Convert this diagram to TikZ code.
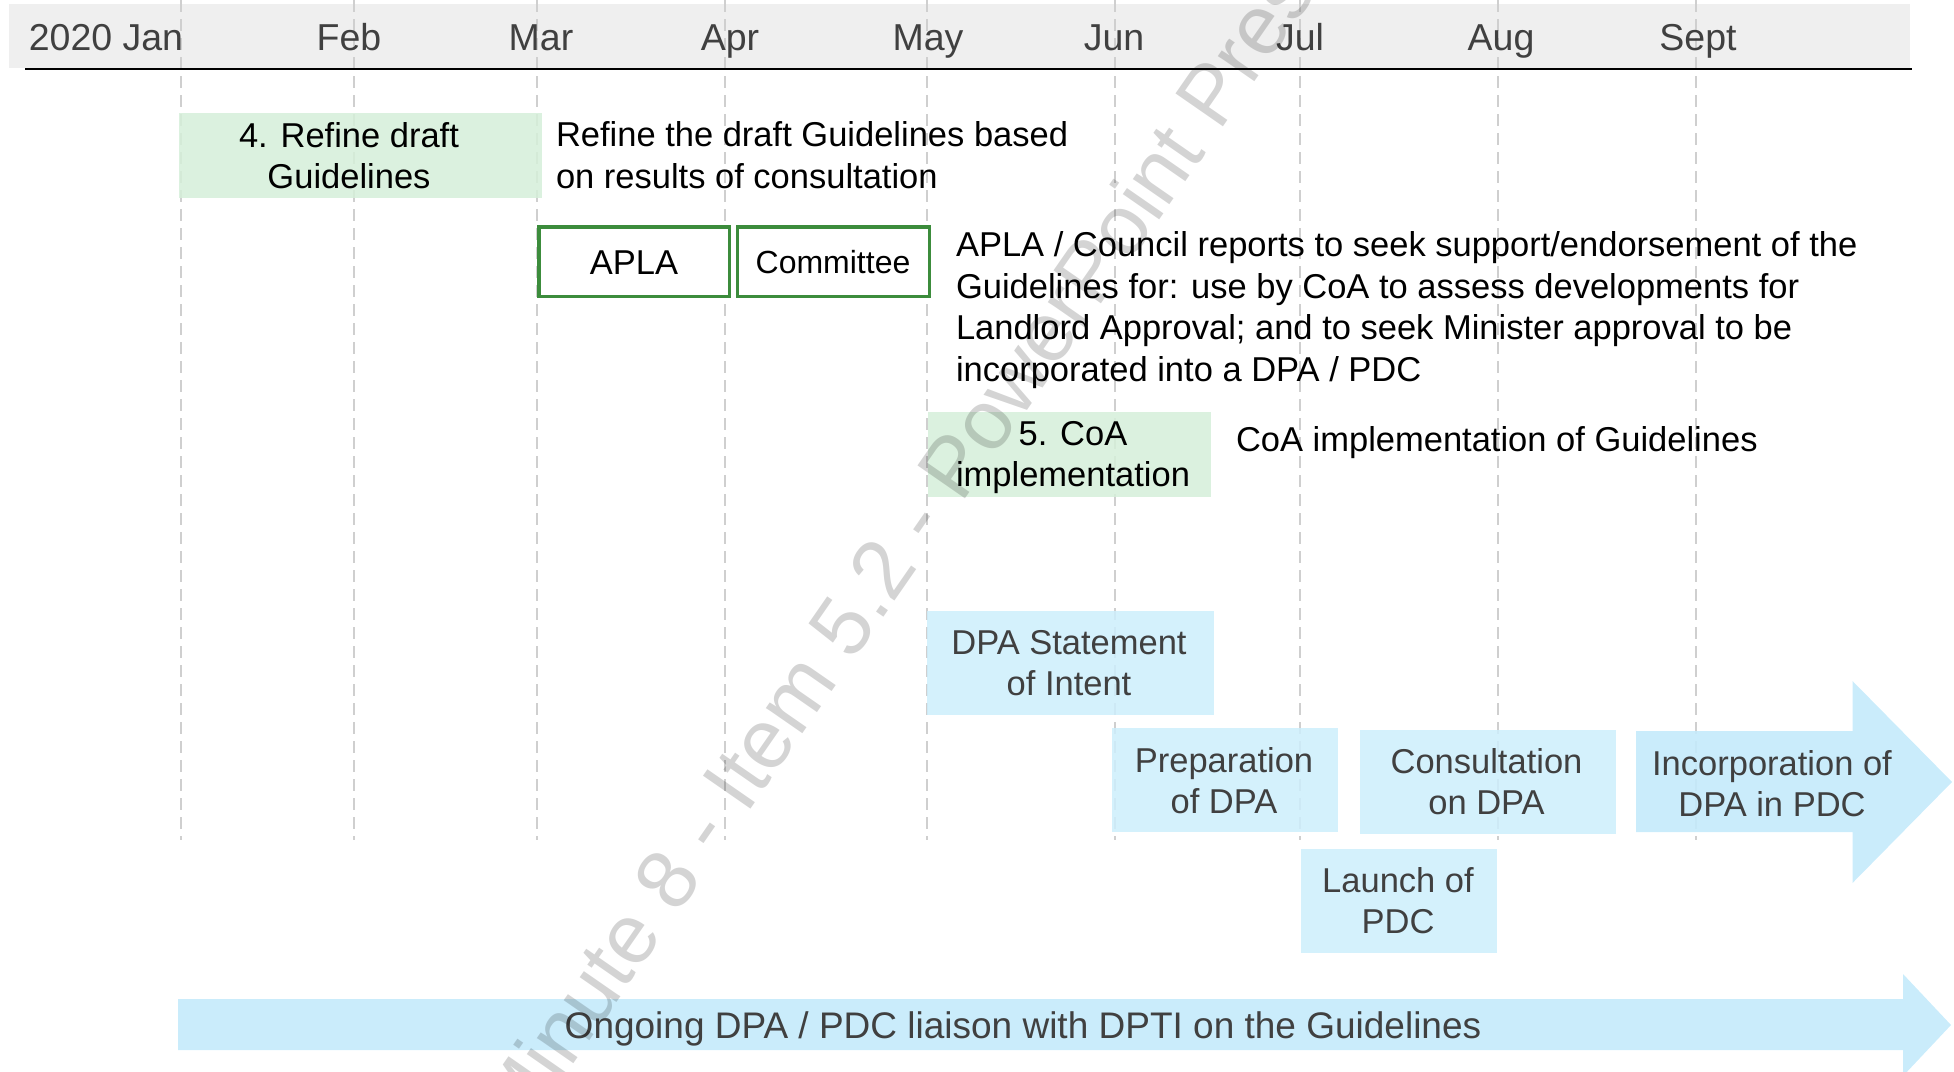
\documentclass[tikz,border=0pt]{standalone}
\usepackage{fontspec}
\setmainfont{Liberation Sans}
\definecolor{bandgrey}{HTML}{EFEFEF}
\definecolor{gridgrey}{HTML}{CFCFCF}
\definecolor{greenfill}{HTML}{D5EFD9}
\definecolor{greenline}{HTML}{3C8C3C}
\definecolor{bluefill}{HTML}{CDEEFC}
\definecolor{arrowblue}{HTML}{C4EAFB}
\definecolor{greytext}{HTML}{404040}
\begin{document}
\begin{tikzpicture}[x=1pt,y=-1pt,
  every node/.style={inner sep=0pt, outer sep=0pt},
  month/.style={anchor=base, text=greytext, font=\fontsize{37.5}{45}\selectfont},
  body/.style={anchor=base west, align=left, font=\fontsize{34.5}{41.5}\selectfont},
  boxlabel/.style={anchor=base, align=center, font=\fontsize{34.5}{41}\selectfont},
  bluelabel/.style={boxlabel, text=greytext},
  gridline/.style={draw=gridgrey, line width=1.6pt, dash pattern=on 12pt off 7pt},
  greenbox/.style={rectangle, fill=greenfill, fill opacity=0.85},
  bluebox/.style={rectangle, fill=bluefill, fill opacity=0.85},
  outlinebox/.style={rectangle, draw=greenline, line width=3.5pt, fill=white},
  arrowshape/.style={fill=arrowblue, fill opacity=0.9}
]
\useasboundingbox (0,0) rectangle (1954,1071);
\clip (0,0) rectangle (1954,1071);

% month header
\fill[bandgrey] (9,4) rectangle (1910,68);
\foreach \x in {181,354,537,725,927,1115,1300,1498,1696}
  \draw[gridline] (\x,0) -- (\x,840);
\draw[black, line width=2pt] (25,68.5) -- (1912,68.5);

\node[month] (jan)  at (106,50.5)  {2020 Jan};
\node[month] (feb)  at (349,50.5)  {Feb};
\node[month] (mar)  at (541,50.5)  {Mar};
\node[month] (apr)  at (730,50.5)  {Apr};
\node[month] (may)  at (928,50.5)  {May};
\node[month] (jun)  at (1114,50.5) {Jun};
\node[month] (jul)  at (1300,50.5) {Jul};
\node[month] (aug)  at (1501,50.5) {Aug};
\node[month] (sept) at (1698,50.5) {Sept};

% step 4
\node[greenbox, minimum width=363, minimum height=85] (refine) at (360.5,155.5) {};
\node[boxlabel] (refinetxt) at (349,188) {4. Refine draft\\Guidelines};
\node[body] (refinedesc) at (556,188) {Refine the draft Guidelines based\\on results of consultation};

% reports
\node[outlinebox, minimum width=190.5, minimum height=69.5] (apla) at (634,261.5) {};
\node[boxlabel] (aplatxt) at (634,274) {APLA};
\node[outlinebox, minimum width=192, minimum height=69.5] (committee) at (833.25,261.5) {};
\node[boxlabel, font=\fontsize{32}{38}\selectfont] (committeetxt) at (833,273) {Committee};
\node[body] (apladesc) at (956,381) {APLA / Council reports to seek support/endorsement of the\\Guidelines for: use by CoA to assess developments for\\Landlord Approval; and to seek Minister approval to be\\incorporated into a DPA / PDC};

% step 5
\node[greenbox, minimum width=283, minimum height=85] (coa) at (1069.5,454.5) {};
\node[boxlabel] (coatxt) at (1073,486) {5. CoA\\implementation};
\node[body] (coadesc) at (1236,451.5) {CoA implementation of Guidelines};

% DPA / PDC steps
\node[bluebox, minimum width=287, minimum height=104] (intent) at (1070.5,663) {};
\node[bluelabel] (intenttxt) at (1069,695.5) {DPA Statement\\of Intent};
\node[bluebox, minimum width=226, minimum height=104] (prep) at (1225,780) {};
\node[bluelabel] (preptxt) at (1224,813.5) {Preparation\\of DPA};
\node[bluebox, minimum width=256, minimum height=104] (consult) at (1488,782) {};
\node[bluelabel] (consulttxt) at (1486.5,814) {Consultation\\on DPA};
\node[bluebox, minimum width=196, minimum height=104] (launch) at (1399,901) {};
\node[bluelabel] (launchtxt) at (1398,933.5) {Launch of\\PDC};

\fill[arrowshape] (1636,731) -- (1852.5,731) -- (1852.5,681) -- (1952,782)
  -- (1852.5,883) -- (1852.5,832) -- (1636,832) -- cycle;
\node[bluelabel] (incorptxt) at (1772,816) {Incorporation of\\DPA in PDC};

% ongoing liaison
\fill[arrowshape] (178,999) -- (1903,999) -- (1903,974) -- (1951,1025)
  -- (1903,1076) -- (1903,1050) -- (178,1050) -- cycle;
\node[bluelabel, font=\fontsize{37}{44}\selectfont] (liaison) at (1023,1038) {Ongoing DPA / PDC liaison with DPTI on the Guidelines};

% watermark
\node[anchor=mid west, rotate=55.25, text=black, text opacity=0.17,
  font=\fontsize{84}{92}\selectfont] (wm) at (518,1140) {Minute 8 - Item 5.2 - PowerPoint Presentation};
\end{tikzpicture}
\end{document}
